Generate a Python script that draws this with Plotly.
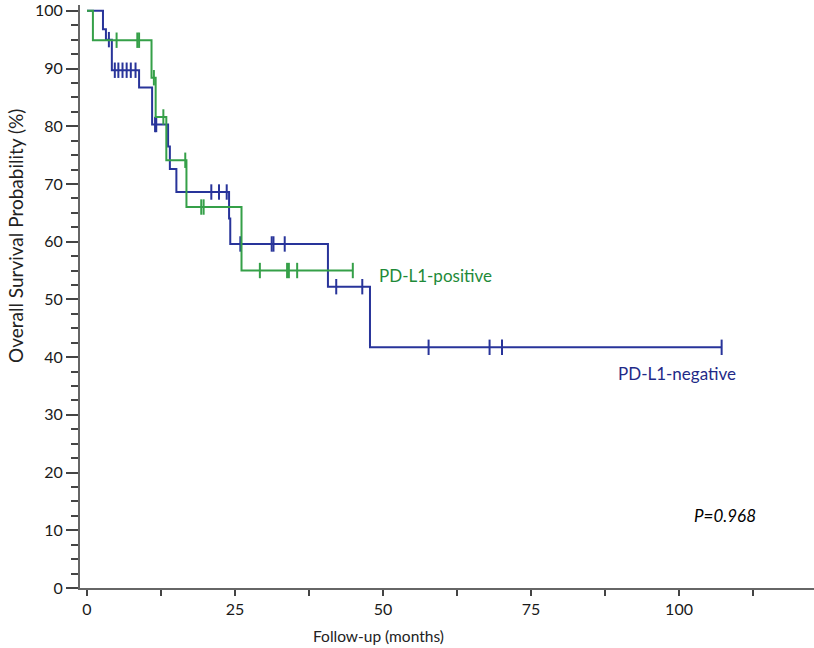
import plotly.graph_objects as go

# ---- data ----
# PD-L1-positive (green): event times and survival (%) after each event
pos_times = [0, 1.0, 10.9, 11.6, 13.4, 16.8, 26.1, 44.9]
pos_surv = [100, 94.9, 88.4, 81.6, 74.1, 66.0, 55.0, 55.0]
pos_censor = [5.0, 8.5, 8.8, 11.3, 12.9, 16.6, 19.3, 19.7, 29.2, 33.8, 34.1, 35.5, 44.9]

# PD-L1-negative (blue)
neg_times = [0, 2.7, 3.2, 4.2, 8.8, 11.0, 13.7, 14.0, 15.1, 24.0, 24.2, 40.7, 47.8, 107.2]
neg_surv = [100, 96.8, 95.0, 89.7, 86.7, 80.3, 76.5, 72.6, 68.6, 64.0, 59.6, 52.2, 41.7, 41.7]
neg_censor = [3.7, 4.7, 5.3, 6.0, 6.7, 7.4, 8.2, 11.5, 11.7, 21.0, 22.3, 23.6, 25.9,
              31.2, 31.5, 33.4, 42.1, 46.5, 57.7, 68.0, 70.1, 107.2]

x_ticks = [0, 25, 50, 75, 100]
y_ticks = [0, 10, 20, 30, 40, 50, 60, 70, 80, 90, 100]

GREEN = "#35A048"
BLUE = "#28349A"
FONT = "Lato, 'Open Sans', sans-serif"


def surv_at(times, surv, t):
    val = surv[0]
    for ti, si in zip(times, surv):
        if ti <= t:
            val = si
    return val


fig = go.Figure()

for times, surv, cens, col, name in [
    (neg_times, neg_surv, neg_censor, BLUE, "PD-L1-negative"),
    (pos_times, pos_surv, pos_censor, GREEN, "PD-L1-positive"),
]:
    fig.add_trace(go.Scatter(
        x=times, y=surv, mode="lines", line=dict(color=col, width=2, shape="hv"),
        name=name, showlegend=False, hoverinfo="skip"))
    fig.add_trace(go.Scatter(
        x=cens, y=[surv_at(times, surv, c) for c in cens], mode="markers",
        marker=dict(symbol="line-ns", size=11, line=dict(color=col, width=2)),
        showlegend=False, hoverinfo="skip"))

fig.add_annotation(x=49.0, y=54.1, text="PD-L1-positive", showarrow=False,
                   xanchor="left", yanchor="middle",
                   font=dict(family=FONT, size=17, color="#1E8A38"))
fig.add_annotation(x=99.7, y=37.1, text="PD-L1-negative", showarrow=False,
                   xanchor="center", yanchor="middle",
                   font=dict(family=FONT, size=17, color="#1F2A88"))
fig.add_annotation(x=107.8, y=12.5, text="<i>P=0.968</i>", showarrow=False,
                   xanchor="center", yanchor="middle",
                   font=dict(family=FONT, size=17, color="#000000"))

# axis titles (placed as in the reference)
fig.add_annotation(xref="paper", yref="paper", x=-0.087, y=0.604,
                   text="Overall Survival Probability (%)", textangle=-90,
                   showarrow=False, xanchor="center", yanchor="middle",
                   font=dict(family=FONT, size=19, color="#222222"))
fig.add_annotation(xref="paper", yref="paper", x=0.407, y=-0.082,
                   text="Follow-up (months)", showarrow=False,
                   xanchor="center", yanchor="middle",
                   font=dict(family=FONT, size=15.5, color="#222222"))

fig.update_layout(
    width=814, height=648,
    margin=dict(l=80, r=0, t=0, b=60),
    paper_bgcolor="white", plot_bgcolor="white",
    font=dict(family=FONT, size=16, color="#222222"),
    xaxis=dict(
        range=[-1.18, 122.8], tickvals=x_ticks, ticktext=[str(v) for v in x_ticks],
        showgrid=False, zeroline=False, showline=True, linecolor="#666666", linewidth=2,
        ticks="outside", ticklen=6, tickwidth=2, tickcolor="#444444",
        minor=dict(dtick=12.5, tick0=0, ticks="outside", ticklen=6, tickwidth=2,
                   tickcolor="#444444", showgrid=False),
        tickfont=dict(family=FONT, size=16, color="#1a1a1a"),
        ticklabeloverflow="allow",
    ),
    yaxis=dict(
        range=[0, 101.0], tickvals=y_ticks, ticktext=[str(v) for v in y_ticks],
        showgrid=False, zeroline=False, showline=True, linecolor="#666666", linewidth=2,
        ticks="outside", ticklen=12, tickwidth=2, tickcolor="#444444",
        minor=dict(dtick=2.5, tick0=0, ticks="outside", ticklen=7, tickwidth=2,
                   tickcolor="#444444", showgrid=False),
        tickfont=dict(family=FONT, size=16, color="#1a1a1a"),
        ticklabeloverflow="allow",
    ),
)

fig.write_html("out.html", config={"displayModeBar": False},
               post_script="document.body.style.margin='0';")
